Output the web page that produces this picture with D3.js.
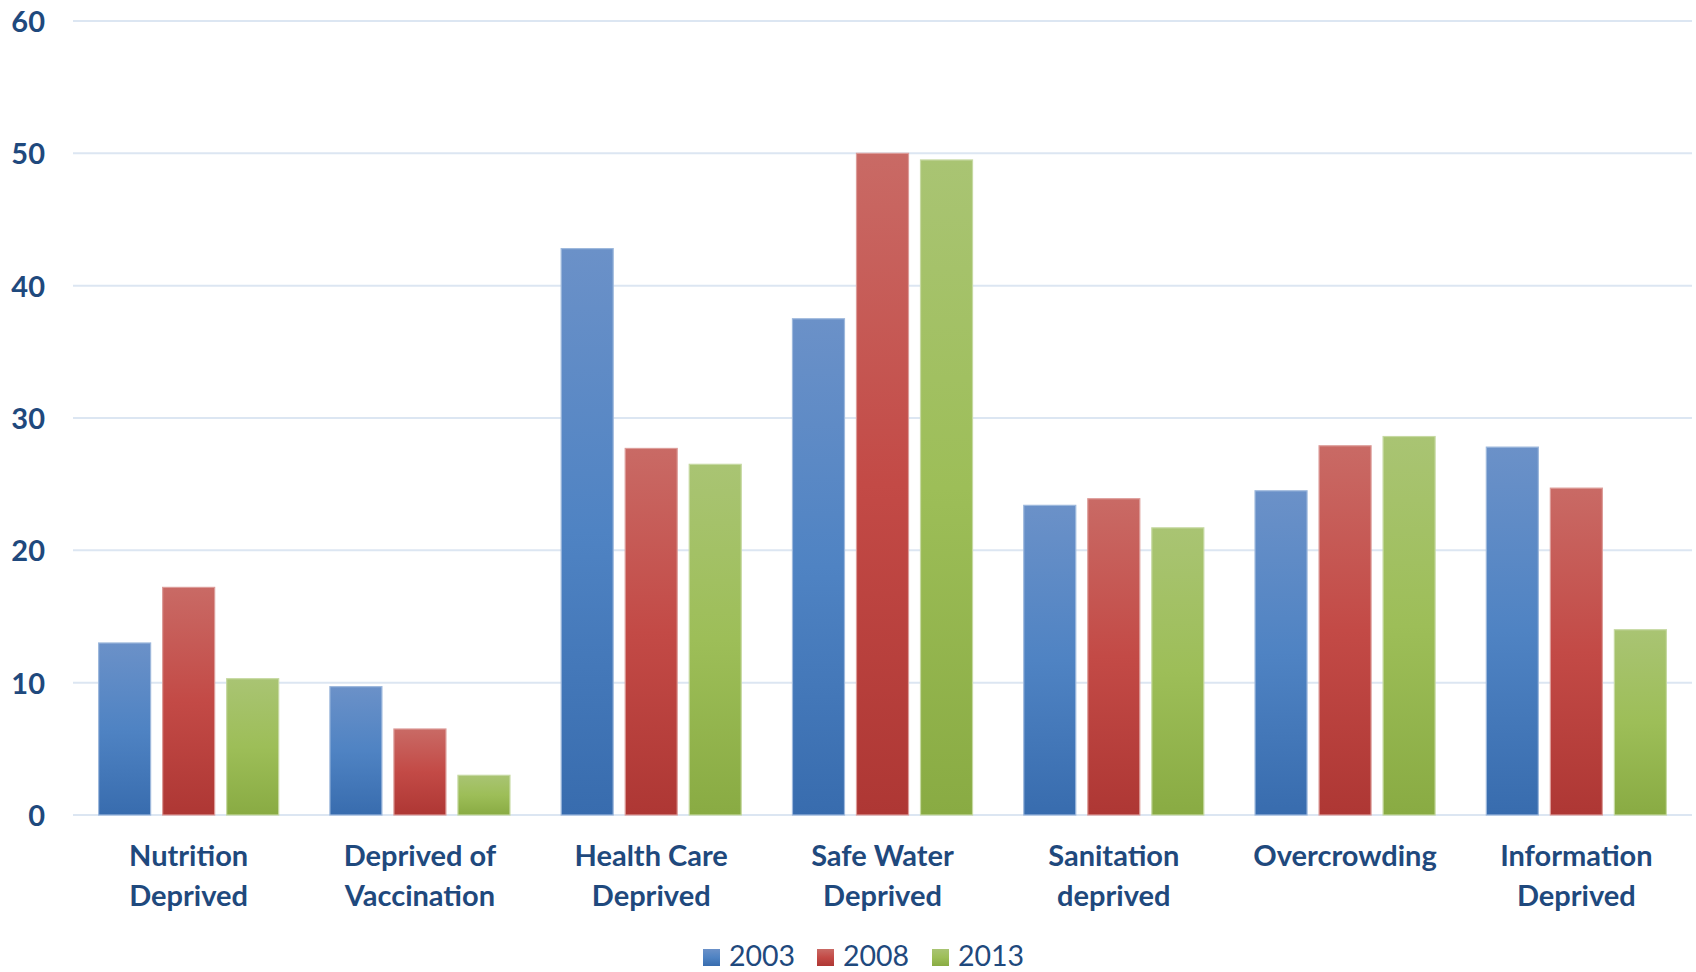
<!DOCTYPE html>
<html>
<head>
<meta charset="utf-8">
<script src="https://cdn.jsdelivr.net/npm/d3@7"></script>
<style>
  html, body { margin: 0; padding: 0; background: #ffffff; }
  svg { display: block; }
</style>
</head>
<body>
<svg id="chart" width="1696" height="972"></svg>
<script>
// Deprivation indicators by survey year (percent)
const categories = [
  ["Nutrition", "Deprived"],
  ["Deprived of", "Vaccination"],
  ["Health Care", "Deprived"],
  ["Safe Water", "Deprived"],
  ["Sanitation", "deprived"],
  ["Overcrowding"],
  ["Information", "Deprived"]
];
const years = ["2003", "2008", "2013"];
const values2003 = [13.0, 9.7, 42.8, 37.5, 23.4, 24.5, 27.8];
const values2008 = [17.2, 6.5, 27.7, 50.0, 23.9, 27.9, 24.7];
const values2013 = [10.3, 3.0, 26.5, 49.5, 21.7, 28.6, 14.0];
const yTicks = [0, 10, 20, 30, 40, 50, 60];

const series = [values2003, values2008, values2013];
const palettes = [
  { top: "#6b91c8", mid: "#4f83c3", bottom: "#386cae", edge: "#9db8dc" },
  { top: "#c96a65", mid: "#c34a46", bottom: "#ae3734", edge: "#dc9c99" },
  { top: "#a9c473", mid: "#9dbe58", bottom: "#89ab43", edge: "#c6d9a2" }
];
const textColor = "#1f497d";
const gridColor = "#dce6f2";
const fontStack = "Lato, 'Open Sans', sans-serif";

const svg = d3.select("#chart");
const margin = { left: 73, right: 4, top: 21, bottom: 157 };
const W = 1696, H = 972;

const x = d3.scaleBand()
  .domain(d3.range(categories.length))
  .range([margin.left, W - margin.right])
  .paddingInner(0)
  .paddingOuter(0);

const xInner = d3.scaleBand()
  .domain(years)
  .range([0, x.bandwidth()])
  .paddingInner(0.1875)
  .paddingOuter(0.40);

const y = d3.scaleLinear()
  .domain([0, 60])
  .range([H - margin.bottom, margin.top]);

// Vertical gradients for the bar fills
const defs = svg.append("defs");
palettes.forEach((p, i) => {
  const g = defs.append("linearGradient")
    .attr("id", "grad" + i)
    .attr("x1", 0).attr("y1", 0).attr("x2", 0).attr("y2", 1);
  g.append("stop").attr("offset", "0%").attr("stop-color", p.top);
  g.append("stop").attr("offset", "50%").attr("stop-color", p.mid);
  g.append("stop").attr("offset", "100%").attr("stop-color", p.bottom);
});

// Horizontal gridlines
svg.append("g")
  .selectAll("line")
  .data(yTicks)
  .join("line")
  .attr("x1", margin.left)
  .attr("x2", W - margin.right)
  .attr("y1", d => y(d))
  .attr("y2", d => y(d))
  .attr("stroke", gridColor)
  .attr("stroke-width", 2);

// Y axis labels
const yAxis = d3.axisLeft(y).tickValues(yTicks).tickSize(0).tickPadding(0);
const yG = svg.append("g")
  .attr("transform", `translate(${margin.left - 28},0)`)
  .call(yAxis);
yG.select(".domain").remove();
yG.selectAll("text")
  .attr("fill", textColor)
  .attr("font-family", fontStack)
  .attr("font-weight", "bold")
  .attr("font-size", 29)
  .attr("dy", "0.36em");

// Bars
const groups = svg.append("g")
  .selectAll("g")
  .data(categories.map((c, i) => i))
  .join("g")
  .attr("transform", i => `translate(${x(i)},0)`);

groups.selectAll("rect")
  .data(i => series.map((s, k) => ({ k, v: s[i] })))
  .join("rect")
  .attr("x", d => xInner(years[d.k]))
  .attr("width", xInner.bandwidth())
  .attr("y", d => y(d.v))
  .attr("height", d => y(0) - y(d.v))
  .attr("fill", d => `url(#grad${d.k})`)
  .attr("stroke", d => palettes[d.k].edge)
  .attr("stroke-width", 1.2);

// Category labels
const labels = svg.append("g")
  .selectAll("text")
  .data(categories.map((c, i) => ({ c, i })))
  .join("text")
  .attr("x", d => x(d.i) + x.bandwidth() / 2)
  .attr("y", 866)
  .attr("text-anchor", "middle")
  .attr("fill", textColor)
  .attr("font-family", fontStack)
  .attr("font-weight", "bold")
  .attr("font-size", 29);
labels.selectAll("tspan")
  .data(d => d.c.map((line, j) => ({ line, j, cx: x(d.i) + x.bandwidth() / 2 })))
  .join("tspan")
  .attr("x", d => d.cx)
  .attr("dy", d => d.j === 0 ? 0 : 40)
  .text(d => d.line);

// Legend
const legendX = [703, 817, 932];
const legend = svg.append("g")
  .selectAll("g")
  .data(years.map((yr, k) => ({ yr, k })))
  .join("g")
  .attr("transform", d => `translate(${legendX[d.k]},949)`);
legend.append("rect")
  .attr("width", 17)
  .attr("height", 17)
  .attr("fill", d => `url(#grad${d.k})`);
legend.append("text")
  .attr("x", 26)
  .attr("y", 17)
  .attr("fill", textColor)
  .attr("font-family", fontStack)
  .attr("font-size", 28.5)
  .text(d => d.yr);
</script>
</body>
</html>
